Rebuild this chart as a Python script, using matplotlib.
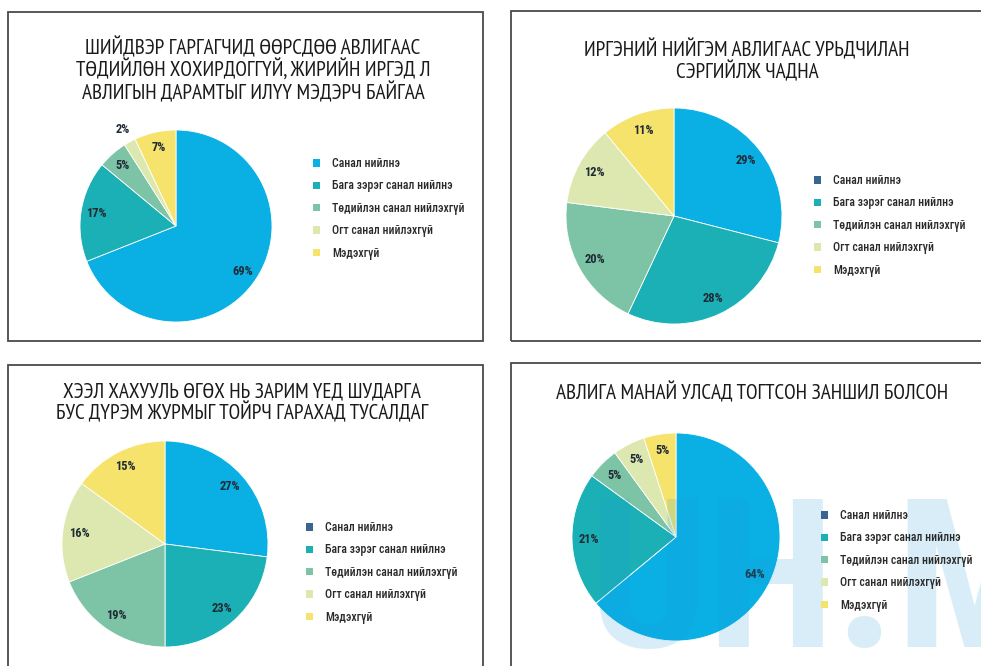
import matplotlib
matplotlib.use("Agg")
import matplotlib.pyplot as plt
from matplotlib.patches import Rectangle, Patch
import numpy as np

W, H = 981, 666

categories = ['Санал нийлнэ', 'Бага зэрэг санал нийлнэ', 'Төдийлэн санал нийлэхгүй',
              'Огт санал нийлэхгүй', 'Мэдэхгүй']

title1 = "ШИЙДВЭР ГАРГАГЧИД ӨӨРСДӨӨ АВЛИГААС\nТӨДИЙЛӨН ХОХИРДОГГҮЙ, ЖИРИЙН ИРГЭД Л\nАВЛИГЫН ДАРАМТЫГ ИЛҮҮ МЭДЭРЧ БАЙГАА"
title2 = "ИРГЭНИЙ НИЙГЭМ АВЛИГААС УРЬДЧИЛАН\nСЭРГИЙЛЖ ЧАДНА"
title3 = "ХЭЭЛ ХАХУУЛЬ ӨГӨХ НЬ ЗАРИМ ҮЕД ШУДАРГА\nБУС ДҮРЭМ ЖУРМЫГ ТОЙРЧ ГАРАХАД ТУСАЛДАГ"
title4 = "АВЛИГА МАНАЙ УЛСАД ТОГТСОН ЗАНШИЛ БОЛСОН"
watermark = "UH.M"

values1 = [69, 17, 5, 2, 7]
values2 = [29, 28, 20, 12, 11]
values3 = [27, 23, 19, 16, 15]
values4 = [64, 21, 5, 5, 5]

slice_colors = ['#0AAFE4', '#1AB0B5', '#7DC3A5', '#DDE8B0', '#F6E36B']
legend_colors_1 = ['#0AAFE4', '#1AB0B5', '#7DC3A5', '#DDE8B0', '#F6E36B']
legend_colors_2 = ['#3A6591', '#1AB0B5', '#7DC3A5', '#DDE8B0', '#F6E36B']

FONT = ['Roboto Condensed', 'PT Sans Narrow', 'DejaVu Sans']
TITLE_FONT = ['PT Sans Narrow', 'Roboto Condensed', 'DejaVu Sans']
plt.rcParams['font.family'] = FONT

fig = plt.figure(figsize=(W / 100, H / 100), dpi=100)
fig.patch.set_facecolor('white')


def fx(x):
    return x / W


def fy(y):
    return 1 - y / H


# panel borders
for (x0, y0, x1, y1) in [(8, 12, 483, 341), (511, 11, 1000, 341),
                         (8, 365, 483, 700), (511, 363, 1000, 700)]:
    fig.patches.append(Rectangle((fx(x0), fy(y1)), fx(x1 - x0), (y1 - y0) / H,
                                 transform=fig.transFigure, fill=False,
                                 edgecolor='#4a4a4a', linewidth=1.3, zorder=0))


def draw_pie(values, cx, cy, r, legend_colors, lx, ly, title, tx, ty):
    ax = fig.add_axes([fx(cx - r), fy(cy + r), 2 * r / W, 2 * r / H])
    wedges, _ = ax.pie(values, colors=slice_colors, startangle=90, counterclock=False,
                       radius=1, wedgeprops=dict(edgecolor='white', linewidth=0.6))
    for w, v in zip(wedges, values):
        mid = np.deg2rad((w.theta1 + w.theta2) / 2)
        d = 0.84 if v >= 3 else 1.15
        ax.text(d * np.cos(mid), d * np.sin(mid), f"{v}%", ha='center', va='center',
                fontsize=9, fontweight='bold', color='#1e2a35', clip_on=False)
    ax.set_xlim(-1, 1)
    ax.set_ylim(-1, 1)
    ax.set_aspect('equal')
    ax.axis('off')
    handles = [Patch(facecolor=c, edgecolor='none') for c in legend_colors]
    fig.legend(handles, categories, loc='upper left', bbox_to_anchor=(fx(lx), fy(ly)),
               frameon=False, handlelength=0.6, handleheight=0.6,
               handletextpad=1.0, labelspacing=0.8, borderpad=0, borderaxespad=0,
               labelcolor='#2a2a2a', prop=dict(family=FONT, weight='medium', size=8.5))
    fig.text(fx(tx), fy(ty), title, ha='center', va='center', fontsize=15.3,
             family=TITLE_FONT, color='#1a1a1a', linespacing=1.05,
             multialignment='center')
    return ax


draw_pie(values1, 176, 226, 96, legend_colors_1, 313, 157, title1, 253, 70)
draw_pie(values2, 674, 216, 108, legend_colors_2, 814, 174, title2, 747, 61)
draw_pie(values3, 165, 544, 103, legend_colors_2, 306, 521, title3, 242, 403)
draw_pie(values4, 676, 537, 104, legend_colors_2, 821, 509, title4, 752, 393)

# faint site watermark over the last panel
fig.text(fx(588), fy(590), watermark, ha='left', va='center', fontsize=150,
         family=['Roboto Condensed', 'DejaVu Sans'], fontweight='bold',
         color='#1a9ad6', alpha=0.17, zorder=5)

fig.savefig('out.png', dpi=100, facecolor='white')
